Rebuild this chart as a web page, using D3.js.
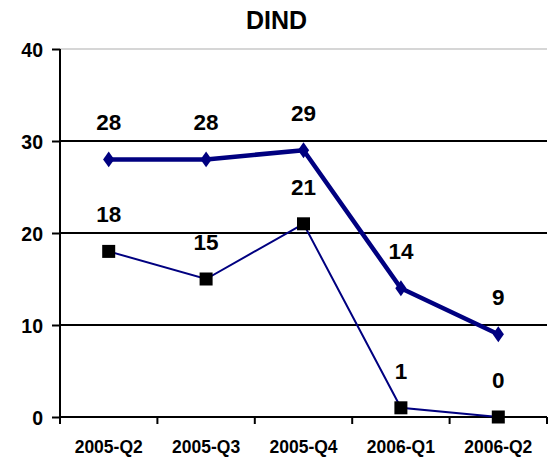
<!DOCTYPE html>
<html><head><meta charset="utf-8">
<script src="https://cdn.jsdelivr.net/npm/d3@7"></script>
<style>body{margin:0;background:#fff}svg{display:block}text{font-family:Arial,"Liberation Sans",sans-serif;font-weight:bold}</style>
</head><body><svg id="c" width="554" height="457"></svg>
<script>
const categories = ["2005-Q2","2005-Q3","2005-Q4","2006-Q1","2006-Q2"];
const seriesA = [28,28,29,14,9];
const seriesB = [18,15,21,1,0];
const yTicks = [0,10,20,30,40];
const title = "DIND";

const svg = d3.select("#c");
const L=60, R=547, T=49, B=417;
const x = d3.scaleBand().domain(categories).range([L,R]);
const y = d3.scaleLinear().domain([0,40]).range([B,T]);
const cx = d => x(d)+x.bandwidth()/2;

svg.append("text").attr("x",276.5).attr("y",29).attr("text-anchor","middle").attr("font-size",25).text(title);

// gridlines
svg.append("g").selectAll("line").data(yTicks.filter(v=>v>0)).join("line")
  .attr("x1",L).attr("x2",R).attr("y1",d=>y(d)).attr("y2",d=>y(d))
  .attr("stroke",d=>d===40?"#c8c8c8":"#000").attr("stroke-width",d=>d===40?1.5:2);

// y axis
const ya = svg.append("g").attr("transform",`translate(${L},0)`)
  .call(d3.axisLeft(y).tickValues(yTicks).tickSize(8).tickPadding(9));
ya.select(".domain").attr("stroke","#000").attr("stroke-width",2).attr("d",`M0,${T}V${B}`);
ya.selectAll(".tick line").attr("stroke","#000").attr("stroke-width",2);
ya.selectAll(".tick text").attr("font-size",19.5).attr("font-family","Arial").attr("font-weight","bold").attr("fill","#000").attr("dy","0.36em");

// x axis
const xa = svg.append("g").attr("transform",`translate(0,${B})`)
  .call(d3.axisBottom(x).tickSize(0).tickPadding(0));
xa.select(".domain").attr("stroke","#000").attr("stroke-width",2).attr("d",`M${L},0H${R}`);
xa.selectAll(".tick text").attr("font-size",17.5).attr("font-family","Arial").attr("font-weight","bold").attr("fill","#000").attr("dy",null).attr("y",35.5);
const edges = categories.map(c=>x(c)).concat([R]);
svg.append("g").selectAll("line").data(edges).join("line")
  .attr("x1",d=>d).attr("x2",d=>d).attr("y1",B).attr("y2",B+7).attr("stroke","#000").attr("stroke-width",2);

const line = d3.line().x((d,i)=>cx(categories[i])).y(d=>y(d));
svg.append("path").datum(seriesA).attr("d",line).attr("fill","none").attr("stroke","#000080").attr("stroke-width",4.5).attr("stroke-linejoin","round");
svg.append("path").datum(seriesB).attr("d",line).attr("fill","none").attr("stroke","#000080").attr("stroke-width",2);

svg.append("g").selectAll("path").data(seriesA).join("path")
  .attr("d",d3.symbol(d3.symbolDiamond,90)).attr("transform",(d,i)=>`translate(${cx(categories[i])},${y(d)}) scale(1.1,0.9)`).attr("fill","#000080");
svg.append("g").selectAll("rect").data(seriesB).join("rect")
  .attr("x",(d,i)=>cx(categories[i])-6.5).attr("y",d=>y(d)-6.5).attr("width",13).attr("height",13).attr("fill","#000");

const labels = (data)=>svg.append("g").selectAll("text").data(data).join("text")
  .attr("x",(d,i)=>cx(categories[i])).attr("y",d=>y(d)-29).attr("text-anchor","middle").attr("font-size",22.5).text(d=>d);
labels(seriesA); labels(seriesB);
</script></body></html>
